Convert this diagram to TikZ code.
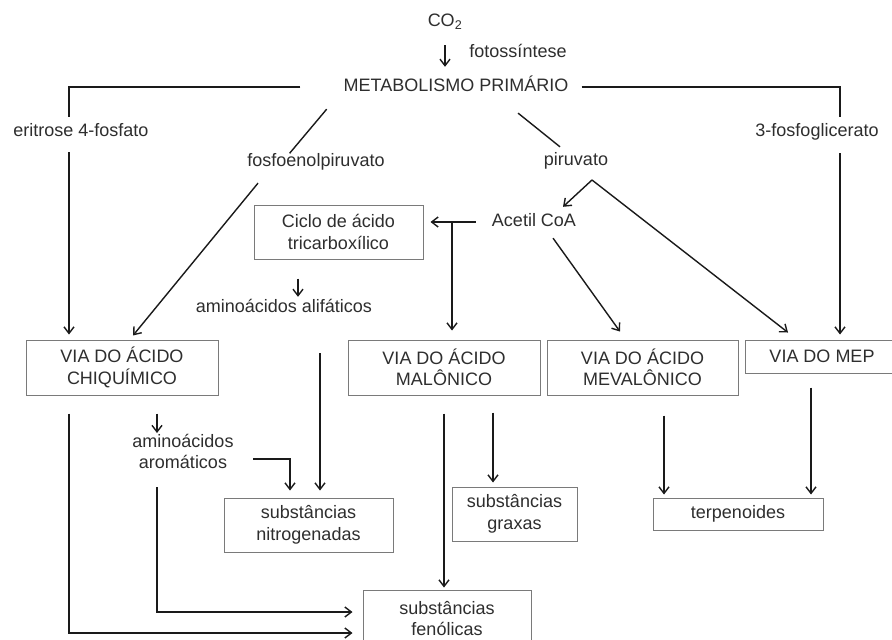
\documentclass[tikz,border=0pt]{standalone}
\usepackage{fontspec}
\setmainfont{Liberation Sans}
\usetikzlibrary{arrows.meta}
\definecolor{ink}{HTML}{2E2E2E}
\definecolor{ink2}{HTML}{1A1A1A}
\definecolor{boxc}{HTML}{7A7A7A}
\begin{document}
\begin{tikzpicture}[x=1pt,y=-1pt,
  font=\fontsize{18}{21.5}\selectfont,
  txt/.style={inner sep=0pt, text=ink, text height=13pt, text depth=4pt},
  txtm/.style={inner sep=0pt, text=ink, align=center},
  box/.style={draw=boxc, line width=1pt, inner sep=0pt, text=ink, align=center},
  ln/.style={draw=ink2, line width=1.4pt},
  arr/.style={ln, -{Straight Barb[length=6.5pt,width=10pt,line width=1.4pt]}}]
\clip (0,0) rectangle (892,640);
\fill[white] (0,0) rectangle (892,640);
% text nodes
\node[txt] (co2) at (445,22) {CO\textsubscript{2}};
\node[txt] (foto) at (518,53) {fotossíntese};
\node[txt] (meta) at (456,87) {METABOLISMO PRIMÁRIO};
\node[txt] (eri) at (81,132) {eritrose 4-fosfato};
\node[txt] (fosfo) at (316,162) {fosfoenolpiruvato};
\node[txt] (piru) at (576,161) {piruvato};
\node[txt] (fosfog) at (817,132) {3-fosfoglicerato};
\node[txt] (acetil) at (534,222) {Acetil CoA};
\node[txt] (alif) at (284,308) {aminoácidos alifáticos};
\node[txtm, anchor=north] (arom) at (183,434) {aminoácidos\\aromáticos};
% boxes
\node[box, minimum width=169pt, minimum height=54pt] (ciclo) at (338.5,232) {Ciclo de ácido\\tricarboxílico};
\node[box, minimum width=192pt, minimum height=55pt] (chiq) at (122,367.5) {VIA DO ÁCIDO\\CHIQUÍMICO};
\node[box, minimum width=192pt, minimum height=55pt] (malo) at (444,367.5) {VIA DO ÁCIDO\\MALÔNICO};
\node[box, minimum width=191pt, minimum height=55pt] (meva) at (642.5,367.5) {VIA DO ÁCIDO\\MEVALÔNICO};
\node[box, minimum width=154pt, minimum height=33pt] (mep) at (822,356.5) {VIA DO MEP};
\node[box, minimum width=169pt, minimum height=54pt] (nitro) at (308.5,525) {substâncias\\nitrogenadas};
\node[box, minimum width=125pt, minimum height=54pt] (graxas) at (514.5,514) {substâncias\\graxas};
\node[box, minimum width=170pt, minimum height=32pt] (terp) at (738,514) {terpenoides};
\node[box, minimum width=168pt, minimum height=57pt] (fenol) at (447,618.5) {substâncias\\fenólicas};
% junction coordinates
\coordinate (apex) at (592,180);
\coordinate (j1) at (452,222);
\coordinate (a1) at (253,459);
% connectors
\draw[arr, shorten <=14.5pt, shorten >=11.5pt] (co2.south) -- (co2.south |- meta.north);
\draw[ln, shorten <=43pt, shorten >=6.5pt] (meta.west) -| ([xshift=-12pt]eri.north);
\draw[arr, shorten <=11.5pt, shorten >=5pt] ([xshift=-12pt]eri.south) -- ([xshift=-12pt]eri.south |- chiq.north);
\draw[ln, shorten <=17.6pt] ([xshift=-118pt]meta.south) -- ([xshift=-26.4pt]fosfo.north);
\draw[arr, shorten <=16.1pt, shorten >=5.2pt] ([xshift=-47.8pt]fosfo.south) -- ([xshift=7.7pt]chiq.north);
\draw[ln, shorten <=13pt, shorten >=6.5pt] (meta.east) -| ([xshift=23pt]fosfog.north);
\draw[arr, shorten <=12.5pt, shorten >=5pt] ([xshift=23pt]fosfog.south) -- ([xshift=23pt]fosfog.south |- mep.north);
\draw[ln, shorten <=27.8pt, shorten >=8.7pt] ([xshift=40.4pt]meta.south) -- ([xshift=-9.2pt]piru.north);
\draw[arr] (apex) -- ([xshift=29pt,yshift=6.5pt]acetil.north);
\draw[arr, shorten >=11.4pt] (apex) -- ([xshift=-25pt]mep.north);
\draw[arr, shorten <=16pt, shorten >=7pt] (acetil.west) -- (acetil.west -| ciclo.east);
\draw[arr, shorten >=9pt] (j1) -- (j1 |- malo.north);
\draw[arr, shorten <=9.2pt, shorten >=9.8pt] ([xshift=13.7pt]acetil.south) -- ([xshift=-16.8pt]meva.north);
\draw[arr, shorten <=19pt, shorten >=2.5pt] ([xshift=-40.5pt]ciclo.south) -- ([xshift=-40.5pt]ciclo.south |- alif.north);
\draw[arr, shorten <=36.5pt, shorten >=7pt] ([xshift=36pt]alif.south) -- ([xshift=36pt]alif.south |- nitro.north);
\draw[arr, shorten <=18pt, shorten >=1pt] ([xshift=35pt]chiq.south) -- ([xshift=35pt]chiq.south |- arom.north);
\draw[arr, shorten >=7pt] (a1) -| ([xshift=-18.5pt]nitro.north);
\draw[arr, shorten <=18pt, shorten >=10pt] ([xshift=-26pt]arom.south) |- ([yshift=6.5pt]fenol.west);
\draw[arr, shorten <=18pt, shorten >=10pt] ([xshift=-53pt]chiq.south) |- ([yshift=-14.5pt]fenol.west);
\draw[arr, shorten <=18pt, shorten >=2pt] (malo.south) -- (malo.south |- fenol.north);
\draw[arr, shorten <=17pt, shorten >=4pt] ([xshift=49pt]malo.south) -- ([xshift=49pt]malo.south |- graxas.north);
\draw[arr, shorten <=20pt, shorten >=3pt] ([xshift=21.5pt]meva.south) -- ([xshift=21.5pt]meva.south |- terp.north);
\draw[arr, shorten <=14pt, shorten >=3pt] ([xshift=-11pt]mep.south) -- ([xshift=-11pt]mep.south |- terp.north);
\end{tikzpicture}
\end{document}
